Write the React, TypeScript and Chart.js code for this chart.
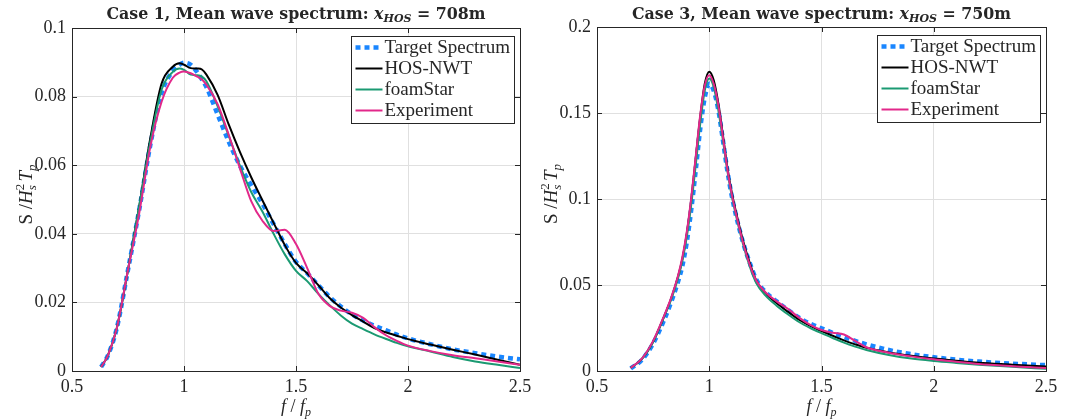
import React, { useEffect, useRef } from "react";
import { Chart, registerables } from "chart.js";
Chart.register(...registerables);

// ---------- DATA ----------
const xTickValues = [0.5, 1, 1.5, 2, 2.5];
const case1YTicks = [0, 0.02, 0.04, 0.06, 0.08, 0.1];
const case3YTicks = [0, 0.05, 0.1, 0.15, 0.2];
const seriesNames = ["Target Spectrum", "HOS-NWT", "foamStar", "Experiment"];

const case1Freq = [0.63, 0.66, 0.7, 0.75, 0.8, 0.85, 0.9, 0.95, 0.98, 1.0, 1.03, 1.06, 1.08, 1.1, 1.15, 1.2, 1.25, 1.3, 1.35, 1.4, 1.45, 1.5, 1.55, 1.6, 1.65, 1.7, 1.75, 1.8, 1.85, 1.9, 1.95, 2.0, 2.1, 2.2, 2.3, 2.4, 2.5];
const case1Target = [0.0012, 0.0045, 0.0125, 0.0295, 0.047, 0.066, 0.081, 0.0875, 0.0893, 0.0899, 0.0893, 0.087, 0.085, 0.0828, 0.0748, 0.0668, 0.0598, 0.0542, 0.0488, 0.0428, 0.037, 0.0318, 0.0285, 0.025, 0.0216, 0.0188, 0.0165, 0.0147, 0.0132, 0.0119, 0.0106, 0.0095, 0.0078, 0.0063, 0.0052, 0.0042, 0.0034];
const case1HOS = [0.0012, 0.0045, 0.0125, 0.0295, 0.048, 0.068, 0.0838, 0.0887, 0.0897, 0.0893, 0.0883, 0.0882, 0.0879, 0.0864, 0.0805, 0.0718, 0.0638, 0.0565, 0.0498, 0.0432, 0.0367, 0.0315, 0.0285, 0.025, 0.0213, 0.0185, 0.0163, 0.0144, 0.0125, 0.0113, 0.0103, 0.0093, 0.0077, 0.0062, 0.0048, 0.0033, 0.0018];
const case1Foam = [0.0012, 0.0045, 0.0125, 0.0295, 0.048, 0.067, 0.082, 0.0872, 0.0882, 0.0878, 0.0864, 0.0862, 0.0858, 0.0845, 0.0772, 0.0685, 0.0598, 0.0522, 0.0465, 0.04, 0.034, 0.0292, 0.0262, 0.0225, 0.0192, 0.0162, 0.0138, 0.0122, 0.0107, 0.0094, 0.0082, 0.0072, 0.0057, 0.0041, 0.0028, 0.0018, 0.0009];
const case1Exp = [0.0012, 0.0045, 0.0125, 0.0295, 0.046, 0.0655, 0.0785, 0.0855, 0.087, 0.0873, 0.0868, 0.0858, 0.085, 0.0835, 0.0778, 0.0688, 0.059, 0.0495, 0.0438, 0.0408, 0.0412, 0.037, 0.03, 0.0225, 0.019, 0.0176, 0.017, 0.0155, 0.0128, 0.0105, 0.0088, 0.0074, 0.0058, 0.0046, 0.0037, 0.0028, 0.0018];

const case3Freq = [0.65, 0.7, 0.75, 0.8, 0.83, 0.86, 0.88, 0.9, 0.92, 0.94, 0.96, 0.98, 1.0, 1.02, 1.04, 1.06, 1.08, 1.1, 1.12, 1.15, 1.18, 1.21, 1.25, 1.3, 1.35, 1.4, 1.45, 1.5, 1.55, 1.6, 1.65, 1.7, 1.8, 1.9, 2.0, 2.1, 2.2, 2.35, 2.5];
const case3Target = [0.0015, 0.0065, 0.016, 0.03, 0.04, 0.0515, 0.061, 0.075, 0.094, 0.117, 0.141, 0.159, 0.167, 0.163, 0.152, 0.135, 0.117, 0.102, 0.09, 0.075, 0.063, 0.053, 0.046, 0.0405, 0.0355, 0.031, 0.0275, 0.0248, 0.0222, 0.0198, 0.0175, 0.0155, 0.0122, 0.0098, 0.008, 0.0066, 0.0055, 0.0043, 0.0034];
const case3HOS = [0.0018, 0.007, 0.017, 0.032, 0.042, 0.0545, 0.065, 0.08, 0.1, 0.124, 0.148, 0.167, 0.174, 0.169, 0.156, 0.138, 0.119, 0.104, 0.092, 0.076, 0.063, 0.0525, 0.0455, 0.0395, 0.0345, 0.0298, 0.0262, 0.0232, 0.0205, 0.0178, 0.0155, 0.0135, 0.0108, 0.0088, 0.0072, 0.006, 0.0048, 0.0037, 0.0026];
const case3Foam = [0.0018, 0.007, 0.017, 0.032, 0.0415, 0.0535, 0.064, 0.078, 0.097, 0.12, 0.144, 0.163, 0.17, 0.165, 0.152, 0.135, 0.117, 0.102, 0.09, 0.074, 0.061, 0.051, 0.044, 0.038, 0.033, 0.0285, 0.025, 0.022, 0.0192, 0.0165, 0.0142, 0.0122, 0.0093, 0.0072, 0.0058, 0.0047, 0.0037, 0.0024, 0.0013];
const case3Exp = [0.0018, 0.0072, 0.0175, 0.0325, 0.0425, 0.055, 0.066, 0.081, 0.101, 0.125, 0.149, 0.166, 0.172, 0.167, 0.155, 0.137, 0.118, 0.103, 0.091, 0.075, 0.062, 0.0525, 0.0458, 0.0405, 0.0362, 0.031, 0.0268, 0.0238, 0.0222, 0.0212, 0.0175, 0.0138, 0.0106, 0.0085, 0.0068, 0.0054, 0.0041, 0.0028, 0.0017];

// ---------- STYLE ----------
const BLUE = "#1a86ff";
const GREEN = "#1b9a72";
const PINK = "#e2288a";
const AXIS = "#262626";
const GRID = "#e0e0e0";
const SERIF = '"Liberation Serif", "Times New Roman", serif';
const TITLE_SERIF = '"DejaVu Serif", "Liberation Serif", serif';

Chart.defaults.font.family = SERIF;

type Run = { t: string; font: string; dy?: number; adv?: boolean };

function runsWidth(ctx: CanvasRenderingContext2D, runs: Run[]) {
  let w = 0;
  for (const r of runs) {
    ctx.font = r.font;
    if (r.adv !== false) w += ctx.measureText(r.t).width;
  }
  return w;
}
function drawRuns(ctx: CanvasRenderingContext2D, runs: Run[], x: number, y: number) {
  let cx = x;
  for (const r of runs) {
    ctx.font = r.font;
    ctx.fillText(r.t, cx, y + (r.dy || 0));
    if (r.adv !== false) cx += ctx.measureText(r.t).width;
  }
}

type PanelCfg = {
  caseNo: string;
  pos: string;
  freq: number[];
  target: number[];
  hos: number[];
  foam: number[];
  exp: number[];
  yMax: number;
  yTicks: number[];
  canvasWidth: number;
  padTop: number;
  padRight: number;
  yAxisWidth: number;
};

function titleRuns(p: PanelCfg, size: number): Run[] {
  const tb = `bold ${size}px ${TITLE_SERIF}`;
  const tbi = `italic bold ${size}px ${TITLE_SERIF}`;
  const tbs = `italic bold ${Math.round(size * 0.7)}px ${TITLE_SERIF}`;
  return [
    { t: `Case ${p.caseNo}, Mean wave spectrum: `, font: tb },
    { t: "x", font: tbi },
    { t: "HOS", font: tbs, dy: 3 },
    { t: ` = ${p.pos}m`, font: tb },
  ];
}

function decorPlugin(p: PanelCfg) {
  return {
    id: "decor" + p.caseNo,
    afterDraw(chart: any) {
      const ctx: CanvasRenderingContext2D = chart.ctx;
      const a = chart.chartArea;
      const xs = chart.scales.x;
      const ys = chart.scales.y;
      ctx.save();
      // frame
      ctx.strokeStyle = AXIS;
      ctx.lineWidth = 1;
      ctx.strokeRect(Math.round(a.left) + 0.5, Math.round(a.top) + 0.5, Math.round(a.right - a.left), Math.round(a.bottom - a.top));
      // inward ticks
      const tl = 5;
      ctx.beginPath();
      for (const v of xTickValues) {
        const px = Math.round(xs.getPixelForValue(v)) + 0.5;
        ctx.moveTo(px, a.bottom);
        ctx.lineTo(px, a.bottom - tl);
        ctx.moveTo(px, a.top);
        ctx.lineTo(px, a.top + tl);
      }
      for (const v of p.yTicks) {
        const py = Math.round(ys.getPixelForValue(v)) + 0.5;
        ctx.moveTo(a.left, py);
        ctx.lineTo(a.left + tl, py);
        ctx.moveTo(a.right, py);
        ctx.lineTo(a.right - tl, py);
      }
      ctx.stroke();

      ctx.fillStyle = AXIS;
      ctx.textBaseline = "alphabetic";
      ctx.textAlign = "left";
      // title, sized to the reference width
      const cx = (a.left + a.right) / 2;
      const w16 = runsWidth(ctx, titleRuns(p, 16));
      const tSize = 16 * 379 / w16;
      const tr = titleRuns(p, tSize);
      drawRuns(ctx, tr, cx - runsWidth(ctx, tr) / 2, 19);

      // x title
      const it = `italic 18px ${SERIF}`;
      const rm = `18px ${SERIF}`;
      const small = `italic 12px ${SERIF}`;
      const xRuns: Run[] = [
        { t: "f", font: it },
        { t: " / ", font: rm },
        { t: "f", font: it },
        { t: "p", font: small, dy: 4 },
      ];
      drawRuns(ctx, xRuns, cx - runsWidth(ctx, xRuns) / 2, 412);

      // y title
      const yit = `italic 19px ${SERIF}`;
      const yrm = `19px ${SERIF}`;
      const ysm = `italic 13px ${SERIF}`;
      const yRuns: Run[] = [
        { t: "S ", font: yrm },
        { t: "/", font: yrm },
        { t: "H", font: yit },
        { t: "2", font: `13px ${SERIF}`, dy: -8, adv: false },
        { t: "s", font: ysm, dy: 4 },
        { t: "\u2009", font: yrm },
        { t: "T", font: yit },
        { t: "p", font: ysm, dy: 4 },
      ];
      ctx.save();
      ctx.translate(a.left - 40, (a.top + a.bottom) / 2 - 5);
      ctx.rotate(-Math.PI / 2);
      drawRuns(ctx, yRuns, -runsWidth(ctx, yRuns) / 2, 0);
      ctx.restore();

      // legend
      const bw = 163;
      const bh = 87;
      const bx = Math.round(a.right - 6 - bw) + 0.5;
      const by = Math.round(a.top + 8) + 0.5;
      ctx.fillStyle = "#ffffff";
      ctx.fillRect(bx, by, bw, bh);
      ctx.strokeStyle = AXIS;
      ctx.lineWidth = 1;
      ctx.strokeRect(bx, by, bw, bh);
      const rows = [11, 32, 53, 74];
      const ds = chart.data.datasets;
      for (let i = 0; i < 4; i++) {
        const d = ds[i];
        const ry = by + rows[i];
        ctx.save();
        ctx.strokeStyle = d.borderColor;
        ctx.lineWidth = d.borderWidth;
        ctx.setLineDash(d.borderDash || []);
        ctx.beginPath();
        ctx.moveTo(bx + 4, ry);
        ctx.lineTo(bx + 31, ry);
        ctx.stroke();
        ctx.restore();
        ctx.fillStyle = AXIS;
        ctx.font = `19px ${SERIF}`;
        ctx.textBaseline = "middle";
        ctx.fillText(d.label, bx + 33, ry + 1);
      }
      ctx.restore();
    },
  };
}

function makeConfig(p: PanelCfg): any {
  const pts = (ys: number[]) => p.freq.map((x, i) => ({ x, y: ys[i] }));
  const common = { pointRadius: 0, fill: false, cubicInterpolationMode: "monotone", borderCapStyle: "butt" };
  const tickFont = { family: SERIF, size: 18 };
  return {
    type: "line",
    data: {
      datasets: [
        { ...common, label: seriesNames[0], data: pts(p.target), borderColor: BLUE, borderWidth: 4.5, borderDash: [5, 4], order: 4 },
        { ...common, label: seriesNames[1], data: pts(p.hos), borderColor: "#000000", borderWidth: 2, order: 3 },
        { ...common, label: seriesNames[2], data: pts(p.foam), borderColor: GREEN, borderWidth: 2, order: 2 },
        { ...common, label: seriesNames[3], data: pts(p.exp), borderColor: PINK, borderWidth: 2, order: 1 },
      ],
    },
    options: {
      responsive: false,
      animation: false,
      devicePixelRatio: 1,
      layout: { padding: { left: 0, right: p.padRight, top: p.padTop, bottom: 0 } },
      scales: {
        x: {
          type: "linear",
          min: 0.5,
          max: 2.5,
          afterBuildTicks: (s: any) => {
            s.ticks = xTickValues.map((v) => ({ value: v }));
          },
          ticks: { color: AXIS, font: tickFont, padding: 5, maxRotation: 0, autoSkip: false, callback: (v: any) => String(v) },
          grid: { color: GRID, drawTicks: false, lineWidth: 1 },
          border: { display: false },
          afterFit: (s: any) => {
            s.height = 49;
            s.paddingLeft = 0;
            s.paddingRight = 0;
          },
        },
        y: {
          type: "linear",
          min: 0,
          max: p.yMax,
          afterBuildTicks: (s: any) => {
            s.ticks = p.yTicks.map((v) => ({ value: v }));
          },
          ticks: { color: AXIS, font: tickFont, padding: 6, autoSkip: false, callback: (v: any) => String(v) },
          grid: { color: GRID, drawTicks: false, lineWidth: 1 },
          border: { display: false },
          afterFit: (s: any) => {
            s.width = p.yAxisWidth;
            s.paddingTop = 0;
            s.paddingBottom = 0;
          },
        },
      },
      plugins: { legend: { display: false }, tooltip: { enabled: false }, title: { display: false } },
    },
    plugins: [decorPlugin(p)],
  };
}

const panel1: PanelCfg = {
  caseNo: "1", pos: "708", freq: case1Freq, target: case1Target, hos: case1HOS, foam: case1Foam, exp: case1Exp,
  yMax: 0.1, yTicks: case1YTicks, canvasWidth: 540, padTop: 28, padRight: 20, yAxisWidth: 72,
};
const panel3: PanelCfg = {
  caseNo: "3", pos: "750", freq: case3Freq, target: case3Target, hos: case3HOS, foam: case3Foam, exp: case3Exp,
  yMax: 0.2, yTicks: case3YTicks, canvasWidth: 533, padTop: 27, padRight: 27, yAxisWidth: 57,
};

function Panel({ cfg, left }: { cfg: PanelCfg; left: number }) {
  const ref = useRef<HTMLCanvasElement>(null);
  useEffect(() => {
    const chart = new Chart(ref.current as HTMLCanvasElement, makeConfig(cfg));
    return () => chart.destroy();
  }, []);
  return (
    <canvas
      ref={ref}
      width={cfg.canvasWidth}
      height={420}
      style={{ position: "absolute", left, top: 0, width: cfg.canvasWidth, height: 420 }}
    />
  );
}

export default function App() {
  return (
    <div style={{ position: "absolute", left: 0, top: 0, width: 1073, height: 420, background: "#ffffff", overflow: "hidden" }}>
      <Panel cfg={panel1} left={0} />
      <Panel cfg={panel3} left={540} />
    </div>
  );
}
